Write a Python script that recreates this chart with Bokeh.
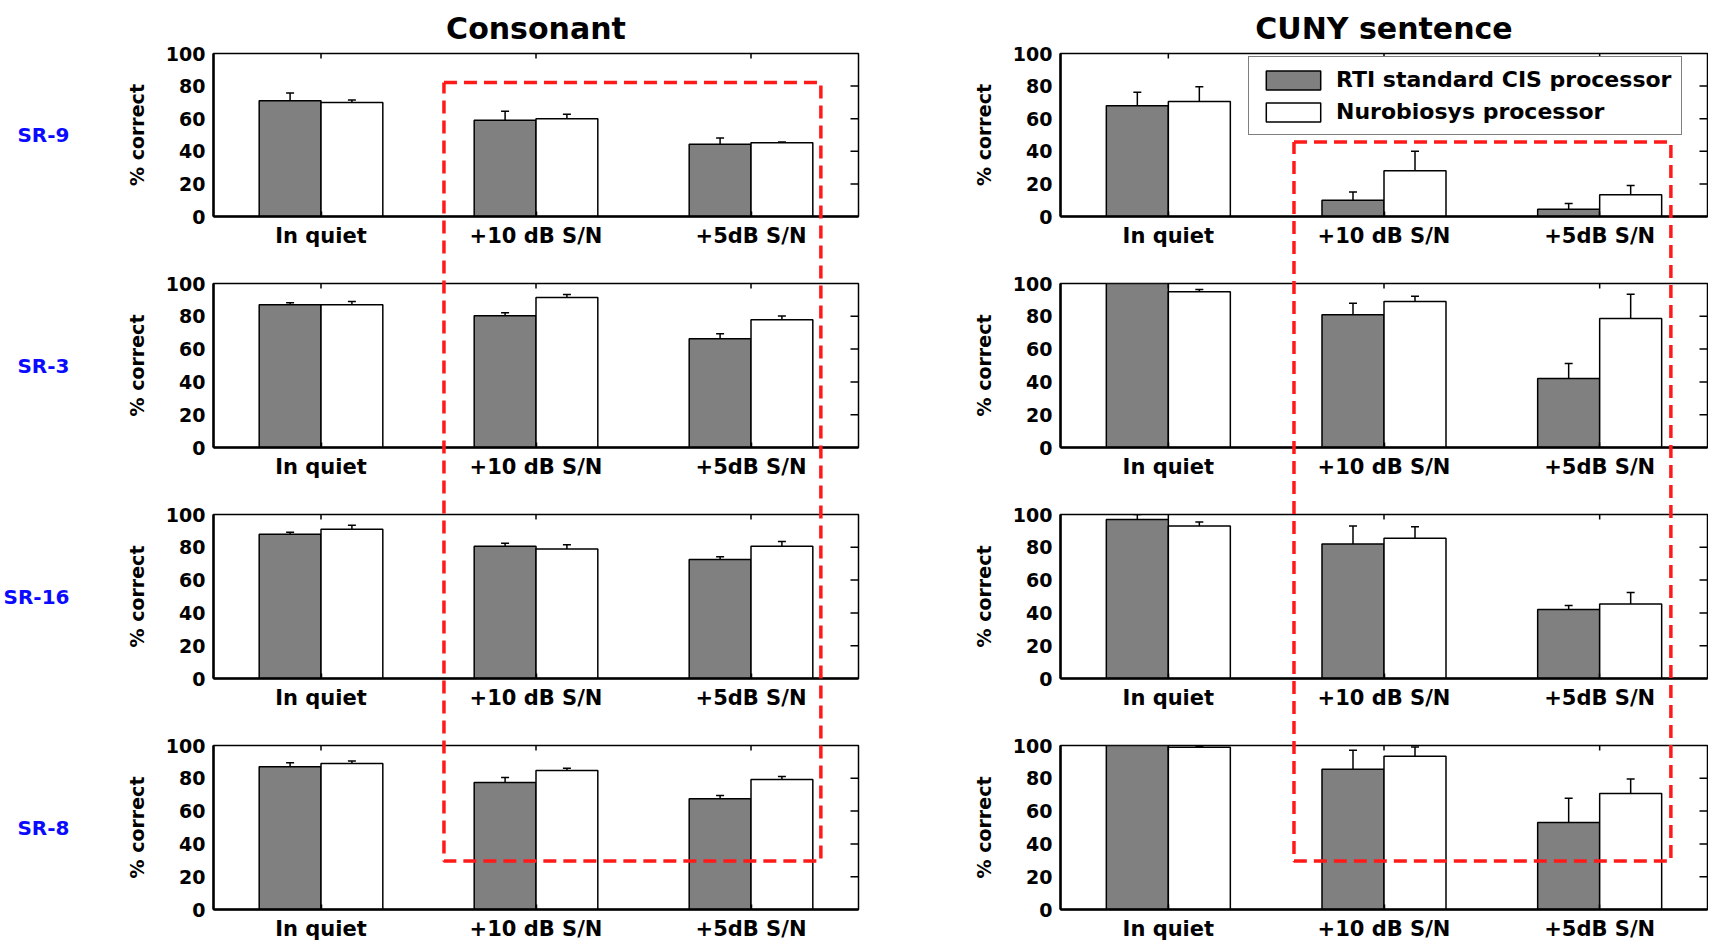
import math
from bokeh.plotting import figure
from bokeh.models import (ColumnDataSource, Whisker, TeeHead, LinearAxis, FixedTicker,
                          Range1d, FactorRange, GridBox)
from bokeh.transform import dodge
from bokeh.embed import file_html
from bokeh.resources import INLINE

# ---------------- data ----------------
conditions = ["In quiet", "+10 dB S/N", "+5dB S/N"]
subjects = ["SR-9", "SR-3", "SR-16", "SR-8"]
tests = ["Consonant", "CUNY sentence"]
processors = ["RTI standard CIS processor", "Nurobiosys processor"]
y_ticks = [0, 20, 40, 60, 80, 100]

# rows: SR-9, SR-3, SR-16, SR-8 ; columns: conditions
cons_rti = [[71, 59, 44.3], [87, 80.3, 66.3], [88, 80.7, 72.5], [87, 77.5, 67.5]]
cons_rti_err = [[4.7, 5.5, 3.8], [1.2, 1.9, 3.1], [1.2, 1.8, 1.8], [2.5, 3.0, 2.0]]
cons_nuro = [[70, 60, 45.3], [87, 91.5, 77.9], [91, 79, 80.7], [89, 84.7, 79.3]]
cons_nuro_err = [[1.4, 2.8, 0.4], [2.0, 1.8, 2.3], [2.5, 2.6, 2.8], [1.5, 1.5, 1.8]]

cuny_rti = [[68, 10, 4.4], [100, 81, 42], [97, 82, 42], [100, 85.5, 53]]
cuny_rti_err = [[8.2, 5.0, 3.5], [0.5, 7.0, 9.2], [3.0, 11.0, 2.5], [0.3, 11.6, 14.8]]
cuny_nuro = [[70.6, 28, 13.4], [95, 89, 78.6], [93, 85.5, 45.5], [99, 93.5, 70.8]]
cuny_nuro_err = [[9.0, 12.0, 5.6], [1.4, 3.2, 14.8], [2.5, 7.0, 7.0], [0.3, 5.6, 8.7]]

# highlighted region (condition units on x, % correct on y; top in first row, bottom in last row)
cons_box_x = [1.07, 2.82]
cons_box_y = [82.5, 29.3]
cuny_box_x = [1.08, 2.83]
cuny_box_y = [46.5, 29.3]

# ---------------- layout / style ----------------
FONT = "DejaVu Sans"
GRAY = "#808080"
COL_W = [958, 750]
BORDER_L = [211, 102]
BORDER_R = [100, 1]
ROW_H = [250, 231, 231, 231]
BORDER_T = [52, 33, 33, 33]
BORDER_B = [32, 32, 32, 32]
FRAME_H = 166
BAR_W = 0.2875


def panel(col, row, rti, rti_err, nuro, nuro_err):
    p = figure(width=COL_W[col], height=ROW_H[row],
               x_range=FactorRange(factors=conditions, range_padding=0),
               y_range=Range1d(0, 100),
               output_backend="svg", toolbar_location=None,
               min_border_left=BORDER_L[col], min_border_right=BORDER_R[col],
               min_border_top=BORDER_T[row], min_border_bottom=BORDER_B[row])
    p.background_fill_color = "white"
    p.border_fill_color = "white"
    p.outline_line_color = "black"
    p.outline_line_width = 1.5
    p.grid.visible = False

    src = ColumnDataSource(dict(
        cond=conditions,
        rti=rti, nuro=nuro,
        rti_lo=[m - e for m, e in zip(rti, rti_err)],
        rti_hi=[m + e for m, e in zip(rti, rti_err)],
        nuro_lo=[m - e for m, e in zip(nuro, nuro_err)],
        nuro_hi=[m + e for m, e in zip(nuro, nuro_err)],
    ))
    kw_rti = {}
    kw_nuro = {}
    if row == 0 and col == 1:
        kw_rti = dict(legend_label=processors[0])
        kw_nuro = dict(legend_label=processors[1])
    p.vbar(x=dodge("cond", -BAR_W / 2, range=p.x_range), top="rti", width=BAR_W, source=src,
           fill_color=GRAY, line_color="black", line_width=1.5, **kw_rti)
    p.vbar(x=dodge("cond", BAR_W / 2, range=p.x_range), top="nuro", width=BAR_W, source=src,
           fill_color="white", line_color="black", line_width=1.5, **kw_nuro)

    for name, off in (("rti", -BAR_W / 2), ("nuro", BAR_W / 2)):
        w = Whisker(source=src, base=dodge("cond", off, range=p.x_range),
                    upper=name + "_hi", lower=name + "_lo",
                    line_color="black", line_width=1.5,
                    upper_head=TeeHead(size=8, line_color="black", line_width=1.5),
                    lower_head=TeeHead(size=8, line_color="black", line_width=1.5))
        p.add_layout(w)

    # inward ticks mirrored on the top and right edges of the box
    p.ray(x=conditions, y=[y_ticks[-1]] * len(conditions), length=5, length_units="screen",
          angle=-math.pi / 2, line_color="black", line_width=1.5)
    p.ray(x=[len(conditions)] * (len(y_ticks) - 2), y=y_ticks[1:-1], length=8,
          length_units="screen", angle=math.pi, line_color="black", line_width=1.5)

    # bottom axis
    xa = p.xaxis[0]
    xa.axis_line_color = "black"
    xa.axis_line_width = 2.5
    xa.major_tick_in = 5
    xa.major_tick_out = 0
    xa.major_tick_line_width = 1.5
    xa.major_label_text_font = FONT
    xa.major_label_text_font_style = "bold"
    xa.major_label_text_font_size = "21px"
    xa.major_label_text_color = "black"
    xa.major_label_standoff = 7

    # left axis
    ya = p.yaxis[0]
    ya.ticker = y_ticks
    ya.axis_line_color = "black"
    ya.axis_line_width = 2.5
    ya.major_tick_in = 0
    ya.major_tick_out = 0
    ya.minor_tick_in = 0
    ya.minor_tick_out = 0
    ya.major_label_text_font = FONT
    ya.major_label_text_font_style = "bold"
    ya.major_label_text_font_size = "19px"
    ya.major_label_text_color = "black"
    ya.major_label_standoff = 8
    ya.axis_label = "% correct"
    ya.axis_label_text_font = FONT
    ya.axis_label_text_font_style = "bold"
    ya.axis_label_text_font_size = "19px"
    ya.axis_label_text_color = "black"
    ya.axis_label_standoff = 15

    # subject name, as an outer axis label on the left column
    if col == 0:
        sa = LinearAxis(ticker=FixedTicker(ticks=[50]), major_label_overrides={50: subjects[row]},
                        axis_line_color=None, major_tick_in=0, major_tick_out=0,
                        minor_tick_in=0, minor_tick_out=0,
                        major_label_text_font=FONT, major_label_text_font_style="bold",
                        major_label_text_font_size="20px", major_label_text_color="#0a0aff",
                        major_label_standoff=53)
        p.add_layout(sa, "left")

    if row == 0:
        p.title.text = tests[col]
        p.title.align = "center"
        p.title.text_font = FONT
        p.title.text_font_style = "bold"
        p.title.text_font_size = "30px"
        p.title.text_color = "black"
        p.title.standoff = 16

    if row == 0 and col == 1:
        lg = p.legend[0]
        lg.location = (188, 81)
        lg.label_text_font = FONT
        lg.label_text_font_style = "bold"
        lg.label_text_font_size = "22px"
        lg.label_text_color = "black"
        lg.glyph_width = 68
        lg.glyph_height = 24
        lg.label_standoff = 9
        lg.padding = 10
        lg.spacing = 7
        lg.border_line_color = "black"
        lg.border_line_width = 1.5
        lg.background_fill_color = "white"
        lg.background_fill_alpha = 1
    return p


data_sets = [(cons_rti, cons_rti_err, cons_nuro, cons_nuro_err),
             (cuny_rti, cuny_rti_err, cuny_nuro, cuny_nuro_err)]

children = []
for col in range(2):
    a, ae, b, be = data_sets[col]
    for row in range(4):
        children.append((panel(col, row, a[row], ae[row], b[row], be[row]), row, col))

# ---------------- overlay for the highlight boxes ----------------
TOT_W = sum(COL_W)
TOT_H = sum(ROW_H)
frame_left = [BORDER_L[0], COL_W[0] + BORDER_L[1]]
frame_w = [COL_W[0] - BORDER_L[0] - BORDER_R[0], COL_W[1] - BORDER_L[1] - BORDER_R[1]]
frame_top = []
acc = 0
for r in range(4):
    frame_top.append(acc + BORDER_T[r])
    acc += ROW_H[r]
frame_bot = [t + FRAME_H for t in frame_top]


def px_x(col, u):
    return frame_left[col] + u / 3.0 * frame_w[col]


def px_y(row, v):
    return frame_bot[row] - v / 100.0 * FRAME_H


ov_left = frame_left[0]
ov_right = frame_left[1] + frame_w[1]
ov_top = frame_top[0]
ov_bot = frame_bot[3]
ov = figure(width=TOT_W, height=TOT_H, x_range=Range1d(ov_left, ov_right),
            y_range=Range1d(ov_bot, ov_top), output_backend="svg", toolbar_location=None,
            min_border_left=ov_left, min_border_right=TOT_W - ov_right,
            min_border_top=ov_top, min_border_bottom=TOT_H - ov_bot,
            x_axis_type=None, y_axis_type=None)
ov.outline_line_color = None
ov.background_fill_color = None
ov.border_fill_color = None

for col, (bx, by) in enumerate(((cons_box_x, cons_box_y), (cuny_box_x, cuny_box_y))):
    x0, x1 = px_x(col, bx[0]), px_x(col, bx[1])
    y0, y1 = px_y(0, by[0]), px_y(3, by[1])
    ov.line(x=[x0, x1, x1, x0, x0], y=[y0, y0, y1, y1, y0],
            line_color="#ff1a1a", line_width=3.5, line_dash="13 7")

children.append((ov, 0, 0, 4, 2))
grid = GridBox(children=children, spacing=0)

open("out.html", "w").write(file_html(grid, INLINE))
